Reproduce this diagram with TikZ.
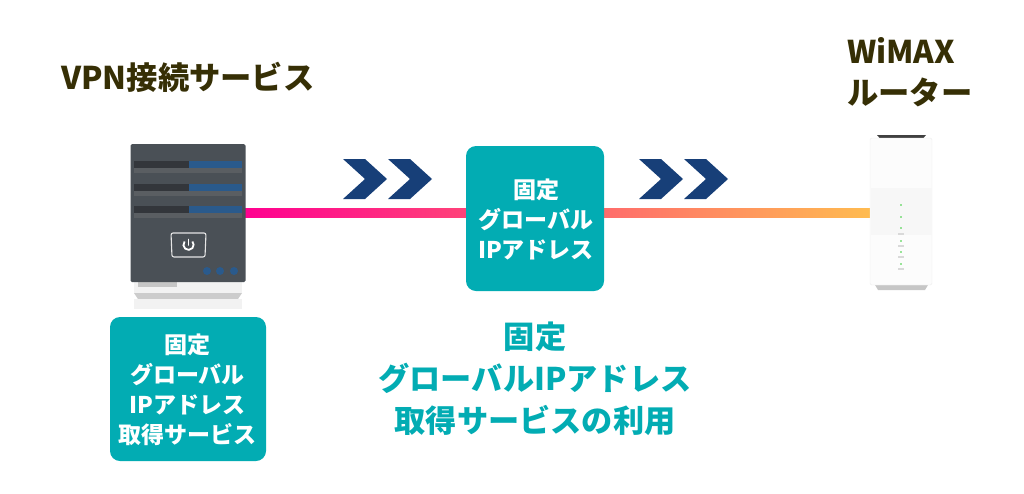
\documentclass[tikz,border=0pt]{standalone}
\usepackage{fontspec}
\setmainfont{Noto Sans CJK JP}
\usepackage{tikz}
\usetikzlibrary{calc}
\definecolor{TealBox}{HTML}{02ACB3}
\definecolor{NavyArrow}{HTML}{173F78}
\definecolor{TitleInk}{HTML}{362F05}
\definecolor{ServerBody}{HTML}{4A5056}
\definecolor{ServerDark}{HTML}{33363B}
\definecolor{ServerBlue}{HTML}{2A5A8C}
\definecolor{LineStart}{HTML}{FF0090}
\definecolor{LineMiddle}{HTML}{FF5A7C}
\definecolor{LineEnd}{HTML}{FFBC50}
\tikzset{
  tealbox/.style={fill=TealBox,rounded corners=10pt,inner sep=0pt},
  boxtext/.style={text=white,inner sep=0pt,align=center,font=\bfseries\fontsize{23}{30}\selectfont},
  titletext/.style={text=TitleInk,inner sep=0pt,align=left,font=\bfseries\fontsize{31.3}{41}\selectfont},
  chevron/.pic={\fill[NavyArrow] (0,0) -- (22,0) -- (44,20) -- (22,40) -- (0,40) -- (22,20) -- cycle;}
}
\begin{document}
\begin{tikzpicture}[x=1pt,y=-1pt]
\useasboundingbox (0,0) rectangle (1024,493);
\coordinate (linestart) at (243,213);
\coordinate (lineend) at (871,213);
\path[left color=LineStart,middle color=LineMiddle,right color=LineEnd]
  ($(linestart)+(0,-4.5)$) rectangle ($(lineend)+(0,4.5)$);
% server
\fill[gray!10] (134,282) rectangle (242,293);
\fill[gray!45] (138,282) rectangle (177,287);
\fill[gray!40] (134,293) -- (242,293) -- (238,299) -- (138,299) -- cycle;
\fill[gray!10] (134,299) rectangle (242,309);
\node[fill=ServerBody,rounded corners=1.5pt,inner sep=0pt,minimum width=115pt,minimum height=138pt] (vpnserver) at (188,213) {};
\foreach \y in {161,184,206} {
  \fill[ServerDark] (134,\y) rectangle (189,\y+7);
  \fill[ServerBlue] (189,\y) rectangle (242,\y+7);
  \fill[gray!30!ServerBody] (134,\y+7) rectangle (242,\y+11.5);
}
\draw[gray!20,line width=1.1pt,rounded corners=2pt] (171,233) -- (206,233) -- (205,257) -- (172,257) -- cycle;
\draw[white,line width=1.8pt,line cap=round] (188.5,239.5) -- (188.5,245);
\draw[white,line width=1.8pt] (184.6,241.5) arc[start angle=220,end angle=-40,radius=5.1];
\foreach \x in {207,220,234}
  \fill[ServerBlue] (\x,271) circle (4);
% router
\fill[black!75] (877,135) -- (926,135) -- (923,138.5) -- (880,138.5) -- cycle;
\fill[gray!45] (875,285) -- (928,285) -- (925,290) -- (878,290) -- cycle;
\node[fill=gray!2,draw=gray!15,rounded corners=1.5pt,inner sep=0pt,minimum width=62pt,minimum height=147pt] (router) at (901,211.5) {};
\fill[gray!6] (870.5,188) rectangle (931.5,235);
\foreach \y in {205,217,228,241,252,264}
  \fill[green!60!gray] (901,\y) circle (0.8);
\foreach \y in {233,245,256,268}
  \fill[gray!30] (898,\y) rectangle (904,\y+1.5);
% arrows
\foreach \x in {343,388}
  \pic at (\x,159) {chevron};
\foreach \x in {639,684}
  \pic at (\x,159) {chevron};
% boxes
\node[tealbox,minimum width=138pt,minimum height=145pt] (globalip) at (535,218.5) {};
\node[boxtext] (globaliptext) at (536,219) {固定\\グローバル\\IPアドレス};
\node[tealbox,minimum width=156pt,minimum height=144pt] (ipservice) at (188,389) {};
\node[boxtext] (ipservicetext) at (187.5,389.5) {固定\\グローバル\\IPアドレス\\取得サービス};
% labels
\node[titletext,anchor=west] (vpntitle) at (61,77) {VPN接続サービス};
\node[titletext,anchor=west] (wimaxtitle) at (847,72.5) {WiMAX\\ルーター};
\node[text=TealBox,inner sep=0pt,align=center,font=\bfseries\fontsize{31.2}{42}\selectfont] (iplabel) at (535,379) {固定\\グローバルIPアドレス\\取得サービスの利用};
\end{tikzpicture}
\end{document}
